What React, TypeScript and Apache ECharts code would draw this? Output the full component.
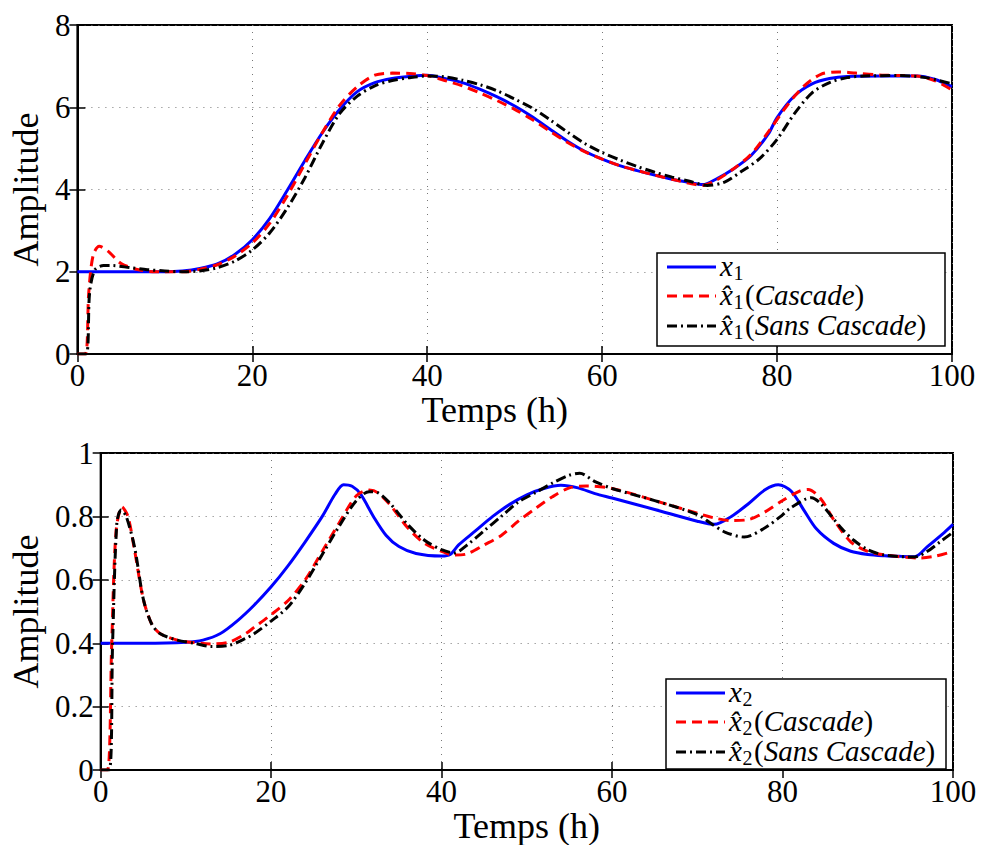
import React, { useEffect, useRef } from "react";
import * as echarts from "echarts";

// ---------- Top plot (x1) ----------
const tX1 = [0, 10, 12, 14, 16, 18, 20, 22, 24, 26, 28, 30, 32, 34, 36, 38, 40, 42, 44, 46, 48, 50, 52, 54, 56, 58, 60, 62, 64, 66, 68, 70, 71.5, 73, 75, 77, 79, 80, 82, 84, 86, 88, 92, 96, 98, 100];
const vX1 = [2, 2, 2.02, 2.08, 2.19, 2.42, 2.78, 3.3, 3.98, 4.7, 5.38, 5.95, 6.38, 6.6, 6.7, 6.75, 6.78, 6.7, 6.6, 6.44, 6.25, 6.03, 5.77, 5.47, 5.18, 4.93, 4.74, 4.58, 4.46, 4.35, 4.25, 4.17, 4.12, 4.25, 4.5, 4.82, 5.35, 5.75, 6.28, 6.57, 6.7, 6.75, 6.76, 6.76, 6.68, 6.5];

const tX1Casc = [0, 0.9, 1.3, 1.8, 2.5, 3.5, 5, 7, 9, 12, 14, 16, 18, 20, 22, 24, 26, 28, 30, 32, 34, 36, 38, 40, 42, 44, 46, 48, 50, 52, 54, 56, 58, 60, 62, 64, 66, 68, 70, 71.5, 73, 75, 77, 79, 81, 83, 85, 87, 89, 92, 96, 98, 100];
const vX1Casc = [0, 0, 1.5, 2.4, 2.62, 2.5, 2.2, 2.05, 2.0, 2.0, 2.06, 2.17, 2.38, 2.7, 3.18, 3.85, 4.62, 5.38, 6.05, 6.5, 6.78, 6.83, 6.82, 6.77, 6.65, 6.52, 6.35, 6.16, 5.95, 5.7, 5.42, 5.15, 4.92, 4.74, 4.58, 4.46, 4.35, 4.25, 4.15, 4.1, 4.22, 4.5, 4.85, 5.4, 6.0, 6.5, 6.8, 6.86, 6.83, 6.78, 6.76, 6.65, 6.42];

const tX1Sans = [0, 1, 1.4, 2, 3, 4, 6, 8, 10, 12, 14, 16, 18, 20, 22, 24, 26, 28, 30, 32, 34, 36, 38, 40, 42, 44, 46, 48, 50, 52, 54, 56, 58, 60, 62, 64, 66, 68, 70, 72, 74, 76, 78, 80, 82, 84, 86, 88, 90, 94, 97, 100];
const vX1Sans = [0, 0, 1.5, 2.05, 2.15, 2.15, 2.1, 2.05, 2.02, 2.0, 2.02, 2.1, 2.26, 2.53, 2.95, 3.55, 4.28, 5.12, 5.85, 6.27, 6.52, 6.65, 6.72, 6.76, 6.74, 6.66, 6.55, 6.4, 6.2, 5.98, 5.7, 5.4, 5.12, 4.9, 4.72, 4.56, 4.42, 4.3, 4.2, 4.1, 4.18, 4.45, 4.75, 5.22, 5.85, 6.35, 6.6, 6.72, 6.76, 6.77, 6.72, 6.57];

// ---------- Bottom plot (x2) ----------
const tX2 = [0, 5, 10, 12, 14, 16, 18, 20, 22, 24, 26, 27.5, 28.5, 29.5, 30.5, 32, 33.5, 35, 37, 40, 41, 42, 44, 46, 48, 50, 52, 54, 56, 58, 60, 65, 70, 72, 74, 76, 78, 79.5, 81, 82.5, 84, 86, 88, 90, 92, 94, 95.5, 97, 99, 100];
const vX2 = [0.4, 0.4, 0.403, 0.41, 0.43, 0.47, 0.52, 0.578, 0.645, 0.72, 0.8, 0.87, 0.9, 0.895, 0.87, 0.8, 0.74, 0.705, 0.683, 0.675, 0.68, 0.71, 0.755, 0.8, 0.838, 0.868, 0.888, 0.898, 0.89, 0.872, 0.858, 0.822, 0.785, 0.775, 0.8, 0.84, 0.885, 0.9, 0.88, 0.82, 0.76, 0.715, 0.69, 0.68, 0.676, 0.674, 0.673, 0.705, 0.75, 0.775];

const tX2Casc = [0, 0.8, 1.3, 1.8, 2.5, 3.2, 4, 5, 6, 7, 9, 11, 13, 15, 17, 18, 20, 22, 24, 26, 28, 30, 31.5, 32.5, 34, 36, 38, 40, 41.5, 43, 45, 47, 49, 51, 53, 55, 57, 60, 65, 70, 72, 74, 76, 78, 80, 82, 83, 84.5, 86, 88, 90, 93, 96, 98, 100];
const vX2Casc = [0, 0, 0.4, 0.75, 0.83, 0.8, 0.69, 0.54, 0.46, 0.43, 0.41, 0.402, 0.398, 0.403, 0.43, 0.45, 0.49, 0.535, 0.6, 0.69, 0.78, 0.865, 0.883, 0.875, 0.835, 0.765, 0.715, 0.69, 0.678, 0.682, 0.71, 0.74, 0.785, 0.825, 0.862, 0.89, 0.896, 0.888, 0.85, 0.81, 0.795, 0.787, 0.79, 0.815, 0.85, 0.88, 0.885, 0.855, 0.79, 0.72, 0.69, 0.675, 0.669, 0.675, 0.69];

const tX2Sans = [0, 1, 1.4, 1.9, 2.4, 3, 4, 5, 6, 7, 9, 11, 13, 15, 17, 18, 20, 22, 24, 26, 28, 30, 31.5, 32.5, 34, 36, 38, 40, 41.5, 43, 45, 47, 49, 51, 53, 55, 56.2, 58, 60, 65, 70, 71.7, 73.3, 75.5, 78, 80, 81, 83.4, 84.5, 85.7, 87, 88.4, 90, 92, 95.5, 97, 98.5, 100];
const vX2Sans = [0, 0, 0.4, 0.78, 0.82, 0.8, 0.7, 0.54, 0.46, 0.43, 0.41, 0.4, 0.39, 0.393, 0.415, 0.43, 0.47, 0.515, 0.59, 0.68, 0.77, 0.85, 0.878, 0.875, 0.84, 0.775, 0.725, 0.695, 0.685, 0.71, 0.755, 0.8, 0.845, 0.875, 0.905, 0.93, 0.936, 0.91, 0.888, 0.85, 0.806, 0.776, 0.75, 0.735, 0.765, 0.805, 0.828, 0.859, 0.84, 0.802, 0.76, 0.724, 0.695, 0.678, 0.672, 0.69, 0.72, 0.75];

const xName = "Temps (h)";
const yName = "Amplitude";
const legendMain = ["x", "x̂", "x̂"];
const legendRest = ["", "Cascade", "Sans Cascade"];

const zip = (t: number[], v: number[]) => t.map((x, i) => [x, v[i]]);

const FONT = "Liberation Serif";
const BLUE = "#0000ff";
const RED = "#ff0000";
const BLACK = "#000000";
const DASH = [10, 6];
const DASHDOT = [10, 4, 2, 4];

export default function App() {
  const ref = useRef<HTMLDivElement>(null);

  useEffect(() => {
    if (!ref.current) return;
    const chart = echarts.init(ref.current, undefined, { renderer: "svg" });

    const grids = [
      { left: 72, top: 25, width: 880, height: 329 },
      { left: 93, top: 453, width: 860, height: 322 },
    ];

    const axisLabel = { fontFamily: FONT, fontSize: 31, color: "#000" };
    const splitLine = { show: true, lineStyle: { color: "#777", type: [1, 6] as any, width: 1 } };
    const tick = { show: true, inside: true, length: 8, lineStyle: { color: "#000", width: 1.5 } };

    const mkX = (gi: number, gap: number, shift: number) => [
      {
        type: "value", gridIndex: gi, min: 0, max: 100, interval: 20,
        axisLine: { show: true, onZero: false, lineStyle: { color: "#000", width: 2 } },
        axisTick: tick, axisLabel: { ...axisLabel, margin: 6 }, splitLine,
        name: xName, nameLocation: "middle", nameGap: gap,
        nameTextStyle: { fontFamily: FONT, fontSize: 36, color: "#000", padding: [0, shift, 0, 0] },
      },
      {
        type: "value", gridIndex: gi, min: 0, max: 100, interval: 20, position: "top",
        axisLine: { show: false }, axisTick: tick, axisLabel: { show: false }, splitLine: { show: false },
      },
    ];
    const mkY = (gi: number, max: number, interval: number, gap: number) => [
      {
        type: "value", gridIndex: gi, min: 0, max, interval,
        axisLine: { show: true, onZero: false, lineStyle: { color: "#000", width: 2 } },
        axisTick: tick, axisLabel: { ...axisLabel, margin: 7 }, splitLine,
        name: yName, nameLocation: "middle", nameGap: gap, nameRotate: 90,
        nameTextStyle: { fontFamily: FONT, fontSize: 36, color: "#000" },
      },
      {
        type: "value", gridIndex: gi, min: 0, max, interval, position: "right",
        axisLine: { show: false }, axisTick: tick, axisLabel: { show: false }, splitLine: { show: false },
      },
    ];

    const line = (name: string, data: number[][], color: string, type: any, xi: number, yi: number) => ({
      name, type: "line", data, xAxisIndex: xi, yAxisIndex: yi,
      symbol: "none", smooth: 0.3, clip: true,
      lineStyle: { color, width: 3, type },
      itemStyle: { color },
    });

    const rich = {
      i: { fontFamily: FONT, fontStyle: "italic", fontSize: 29, lineHeight: 26, color: "#000" },
      n: { fontFamily: FONT, fontSize: 29, lineHeight: 26, color: "#000" },
    };

    const legend = (x: number, y: number, w: number, h: number, sub: string) => {
      const rowY = [y + 14, y + 43, y + 73];
      const lx1 = x + 10, lx2 = x + 59, tx = x + 63;
      const cols = [BLUE, RED, BLACK];
      const dashes: any[] = [null, DASH, DASHDOT];
      const els: any[] = [
        { type: "rect", shape: { x, y, width: w, height: h }, style: { fill: "#fff", stroke: "#000", lineWidth: 1.5 }, z: 100 },
      ];
      for (let k = 0; k < 3; k++) {
        const ry = rowY[k] - 1;
        els.push({
          type: "line", shape: { x1: lx1, y1: rowY[k], x2: lx2, y2: rowY[k] },
          style: { stroke: cols[k], lineWidth: 3, lineDash: dashes[k] }, z: 101,
        });
        els.push({
          type: "text", x: tx, y: ry,
          style: { text: legendMain[k], fontFamily: FONT, fontStyle: "italic", fontSize: 29, fill: "#000", verticalAlign: "middle", align: "left" }, z: 101,
        });
        els.push({
          type: "text", x: tx + 13.5, y: ry + 7,
          style: { text: sub, fontFamily: FONT, fontSize: 20, fill: "#000", verticalAlign: "middle", align: "left" }, z: 101,
        });
        if (legendRest[k]) {
          els.push({
            type: "text", x: tx + 25, y: ry,
            style: { text: `{n|(}{i|${legendRest[k]}}{n|)}`, rich, verticalAlign: "middle", align: "left" }, z: 101,
          });
        }
      }
      return els;
    };

    chart.setOption({
      animation: false,
      backgroundColor: "#fff",
      textStyle: { fontFamily: FONT },
      grid: grids.map((g) => ({ ...g, show: true, borderColor: "#000", borderWidth: 2, backgroundColor: "#fff" })),
      xAxis: [...mkX(0, 38, 40), ...mkX(1, 35, 0)],
      yAxis: [...mkY(0, 8, 2, 24), ...mkY(1, 1, 0.2, 45)],
      series: [
        line("x1", zip(tX1, vX1), BLUE, "solid", 0, 0),
        line("x1 Cascade", zip(tX1Casc, vX1Casc), RED, DASH, 0, 0),
        line("x1 Sans Cascade", zip(tX1Sans, vX1Sans), BLACK, DASHDOT, 0, 0),
        line("x2", zip(tX2, vX2), BLUE, "solid", 2, 2),
        line("x2 Cascade", zip(tX2Casc, vX2Casc), RED, DASH, 2, 2),
        line("x2 Sans Cascade", zip(tX2Sans, vX2Sans), BLACK, DASHDOT, 2, 2),
      ],
      graphic: [...legend(657, 253, 288, 93, "1"), ...legend(666, 679, 280, 90, "2")],
    });

    return () => chart.dispose();
  }, []);

  return (
    <div
      ref={ref}
      style={{ position: "fixed", left: 0, top: 0, width: 981, height: 845, background: "#fff" }}
    />
  );
}
